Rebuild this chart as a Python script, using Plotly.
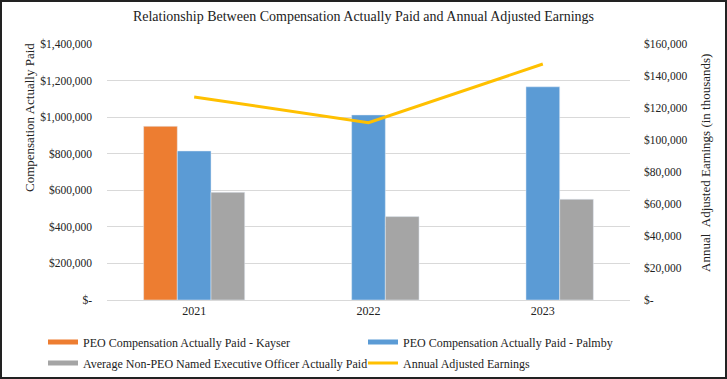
import plotly.graph_objects as go

years = ["2021", "2022", "2023"]
kayser = [950000, None, None]
palmby = [815000, 1012000, 1166000]
non_peo = [589000, 456000, 551000]
earnings = [126900, 110800, 147500]

left_tickvals = [0, 200000, 400000, 600000, 800000, 1000000, 1200000, 1400000]
left_ticktext = ["$-", "$200,000", "$400,000", "$600,000", "$800,000", "$1,000,000", "$1,200,000", "$1,400,000"]
right_tickvals = [0, 20000, 40000, 60000, 80000, 100000, 120000, 140000, 160000]
right_ticktext = ["$-", "$20,000", "$40,000", "$60,000", "$80,000", "$100,000", "$120,000", "$140,000", "$160,000"]

title_text = "Relationship Between Compensation Actually Paid and Annual Adjusted Earnings"
left_title = "Compensation Actually Paid"
right_title = "Annual\u00a0\u00a0Adjusted Earnings (in thousands)"

W, H = 727, 379
ML, MR, MT, MB = 107, 97, 44, 79
FONT = "Liberation Serif, Times New Roman, serif"

bar_series = [
    ("PEO Compensation Actually Paid - Kayser", kayser, "#ED7D31", "legend"),
    ("PEO Compensation Actually Paid - Palmby", palmby, "#5B9BD5", "legend2"),
    ("Average Non-PEO Named Executive Officer Actually Paid", non_peo, "#A5A5A5", "legend3"),
]

fig = go.Figure()
for i, (name, vals, color, lg) in enumerate(bar_series):
    fig.add_trace(go.Bar(x=years, y=vals, name=name, marker_color=color,
                         legendgroup=f"g{i}", showlegend=False))
    # legend swatch as a wide bar-like line
    fig.add_trace(go.Scatter(x=[None], y=[None], name=name, mode="lines",
                             line=dict(color=color, width=5), legendgroup=f"g{i}",
                             legend=lg))
fig.add_trace(go.Scatter(x=years, y=earnings, name="Annual Adjusted Earnings", yaxis="y2",
                         mode="lines", line=dict(color="#FFC000", width=3), legend="legend4"))

pw = W - ML - MR
ph = H - MT - MB
fig.add_shape(type="rect", xref="paper", yref="paper",
              x0=(1 - ML) / pw, x1=(W - ML - 1) / pw,
              y0=-(MB - 1) / ph, y1=(ph + MT - 1) / ph,
              line=dict(color="#222222", width=2), fillcolor="rgba(0,0,0,0)", layer="above")

legend_common = dict(orientation="v", xref="container", yref="container",
                     xanchor="left", yanchor="middle", itemwidth=30,
                     font=dict(size=12), traceorder="normal", tracegroupgap=0,
                     bgcolor="rgba(0,0,0,0)")

fig.add_annotation(text=left_title, xref="paper", yref="paper",
                   x=(29 - ML) / pw, y=(H - MB - 118) / ph, textangle=-90,
                   showarrow=False, xanchor="center", yanchor="middle",
                   font=dict(size=13, family=FONT, color="#222222"))
fig.add_annotation(text=right_title, xref="paper", yref="paper",
                   x=(705 - ML) / pw, y=(H - MB - 163) / ph, textangle=-90,
                   showarrow=False, xanchor="center", yanchor="middle",
                   font=dict(size=13, family=FONT, color="#222222"))

fig.update_layout(
    width=W, height=H,
    margin=dict(l=ML, r=MR, t=MT, b=MB, autoexpand=False),
    paper_bgcolor="white", plot_bgcolor="white",
    font=dict(family=FONT, size=12, color="#222222"),
    title=dict(text=title_text,
               x=0.5, xref="container", y=1 - 16 / H, yref="container", yanchor="middle",
               font=dict(family=FONT, size=14, color="#222222")),
    barmode="group", bargap=0.42, bargroupgap=0,
    xaxis=dict(showgrid=False, showline=True, linecolor="#d9d9d9", ticks="",
               tickfont=dict(size=12)),
    yaxis=dict(range=[0, 1400000], tickvals=left_tickvals, ticktext=left_ticktext,
               showgrid=True, gridcolor="#d9d9d9", gridwidth=1, zeroline=False,
               tickfont=dict(size=11.5), ticklabelstandoff=14),
    yaxis2=dict(range=[0, 160000], tickvals=right_tickvals, ticktext=right_ticktext,
                overlaying="y", side="right", showgrid=False, zeroline=False,
                tickfont=dict(size=11.5), ticklabelstandoff=13),
    legend=dict(x=43 / W, y=(H - 342) / H, **legend_common),
    legend2=dict(x=363 / W, y=(H - 342) / H, **legend_common),
    legend3=dict(x=43 / W, y=(H - 363) / H, **legend_common),
    legend4=dict(x=363 / W, y=(H - 363) / H, **legend_common),
    showlegend=True,
)

fig.write_html("out.html", config={"displayModeBar": False},
               post_script="document.body.style.margin='0';")
